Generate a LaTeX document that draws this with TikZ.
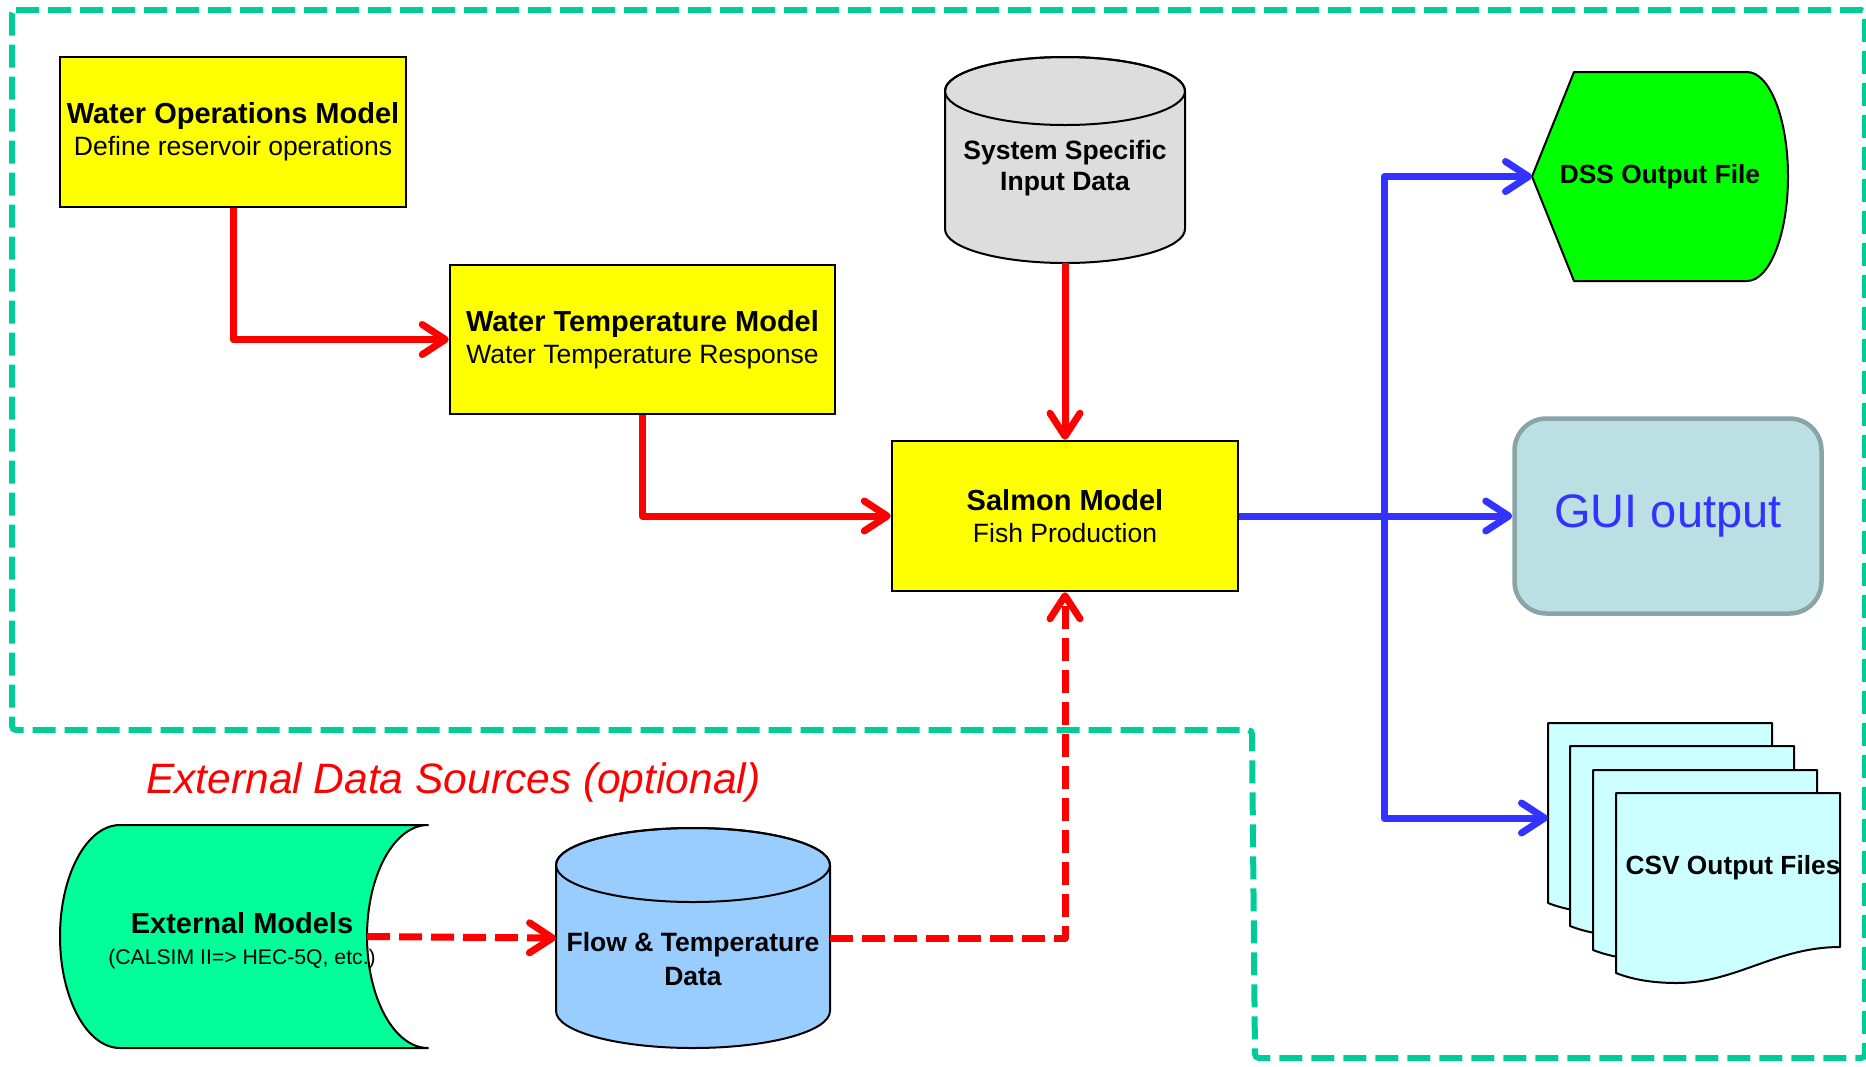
\documentclass[tikz,border=0pt]{standalone}
\usepackage{fontspec}
\setmainfont{Liberation Sans}
\usetikzlibrary{arrows.meta}

\definecolor{outlinegreen}{HTML}{00CC99}
\definecolor{flowred}{HTML}{FF0000}
\definecolor{flowblue}{HTML}{3333FF}
\definecolor{boxyellow}{HTML}{FFFF00}
\definecolor{sysgray}{HTML}{DDDDDD}
\definecolor{cylblue}{HTML}{99CCFF}
\definecolor{extgreen}{HTML}{00FF99}
\definecolor{dssgreen}{HTML}{00FF00}
\definecolor{csvcyan}{HTML}{CCFFFF}
\definecolor{guifill}{HTML}{BBDFE2}
\definecolor{guiedge}{HTML}{88A4A6}

\tikzset{
  groupline/.style={draw=outlinegreen, line width=6pt, dash pattern=on 23pt off 9pt, rounded corners=4pt},
  modelbox/.style={draw=black, line width=2.5pt, fill=boxyellow, inner sep=0pt, align=center,
    font=\fontsize{26.5}{32}\selectfont},
  shapeline/.style={draw=black, line width=2pt, line join=round},
  frame/.style={inner sep=0pt, outer sep=0pt},
  boldlabel/.style={inner sep=0pt, align=center, font=\fontsize{26.5}{31}\selectfont\bfseries},
  tip/.style={-{Straight Barb[length=23pt,width=30pt,round]}},
  redflow/.style={draw=flowred, line width=7pt, line join=round, tip},
  reddash/.style={redflow, dash pattern=on 23pt off 9pt},
  blueflow/.style={draw=flowblue, line width=7pt, line join=round},
  docpage/.pic={
    \path[shapeline, fill=csvcyan] (0,0) -- (224,0) -- (224,-154)
      .. controls (160,-154) and (120,-190) .. (61,-190)
      .. controls (35,-190) and (15,-186) .. (0,-180) -- cycle;
  }
}

\newcommand{\modeltitle}[1]{{\fontsize{29}{32}\selectfont\bfseries #1}}

\begin{document}
\begin{tikzpicture}[x=1pt, y=1pt]
\useasboundingbox (0,0) rectangle (1866,-1066);

% dashed boundary of the integrated model
\draw[groupline] (12,-10) -- (1865,-10) -- (1865,-1058) -- (1255,-1058)
  -- (1252,-730) -- (12,-730) -- cycle;

% model boxes
\node[modelbox, minimum width=346pt, minimum height=150pt] (wo) at (233,-132)
  {\modeltitle{Water Operations Model}\\Define reservoir operations};
\node[modelbox, minimum width=385pt, minimum height=149pt] (wt) at (642.5,-339.5)
  {\modeltitle{Water Temperature Model}\\Water Temperature Response};
\node[modelbox, minimum width=346pt, minimum height=150pt] (salmon) at (1065,-516)
  {\modeltitle{Salmon Model}\\Fish Production};

% system specific input data (cylinder)
\path[shapeline, fill=sysgray] (945,-91) -- (945,-229)
  arc[start angle=180, end angle=360, x radius=120, y radius=34]
  -- (1185,-91) arc[start angle=0, end angle=180, x radius=120, y radius=34] -- cycle;
\draw[shapeline] (1065,-91) ellipse[x radius=120, y radius=34];
\node[frame, minimum width=240pt, minimum height=206pt] (sysdata) at (1065,-160) {};
\node[boldlabel] (systext) at (1065,-168) {System Specific\\Input Data};

% flow & temperature data (cylinder)
\path[shapeline, fill=cylblue] (556,-865) -- (556,-1011)
  arc[start angle=180, end angle=360, x radius=137, y radius=37]
  -- (830,-865) arc[start angle=0, end angle=180, x radius=137, y radius=37] -- cycle;
\draw[shapeline] (693,-865) ellipse[x radius=137, y radius=37];
\node[frame, minimum width=274pt, minimum height=220pt] (flow) at (693,-938) {};
\node[boldlabel, font=\fontsize{26.5}{34}\selectfont\bfseries] (flowtext) at (693,-959)
  {Flow \& Temperature\\Data};

% external models (stored data shape)
\path[shapeline, fill=extgreen] (120,-825) -- (428,-825)
  arc[start angle=90, end angle=270, x radius=61, y radius=111.5]
  -- (120,-1048) arc[start angle=270, end angle=90, x radius=60, y radius=111.5] -- cycle;
\node[frame, minimum width=307pt, minimum height=223pt] (ext) at (213.5,-936.5) {};
\node[inner sep=0pt, align=center, font=\fontsize{21.2}{31}\selectfont] (exttext) at (242,-941)
  {{\fontsize{29}{31}\selectfont\bfseries External Models}\\(CALSIM II=> HEC-5Q, etc.)};

\node[anchor=west, inner sep=0pt, text=flowred, font=\fontsize{42.5}{48}\selectfont\itshape]
  (extlabel) at (146,-782) {External Data Sources (optional)};

% DSS output file (display shape)
\path[shapeline, fill=dssgreen] (1532,-176.5) -- (1574,-72) -- (1747,-72)
  arc[start angle=90, end angle=-90, x radius=41, y radius=104.5]
  -- (1574,-281) -- cycle;
\node[frame, minimum width=256pt, minimum height=209pt, font=\fontsize{26.3}{31}\selectfont\bfseries]
  (dss) at (1660,-176.5) {DSS Output File};

% GUI output
\node[draw=guiedge, line width=4.5pt, fill=guifill, rounded corners=32pt,
  minimum width=307pt, minimum height=195pt, text=flowblue,
  font=\fontsize{47}{52}\selectfont] (gui) at (1668,-516) {GUI output};

% CSV output files (stack of documents)
\pic at (1548,-723) {docpage};
\pic at (1570,-746) {docpage};
\pic at (1593,-770) {docpage};
\pic at (1616,-793) {docpage};
\node[frame, minimum width=224pt, minimum height=190pt] (csvback) at (1660,-818) {};
\node[inner sep=0pt, font=\fontsize{26.3}{31}\selectfont\bfseries] (csvtext) at (1733,-868)
  {CSV Output Files};

% red model chain
\draw[redflow] (wo.south) |- (wt.west);
\draw[redflow] (wt.south) |- (salmon.west);
\draw[redflow] (sysdata.south) -- (salmon.north);

% optional external data
\draw[reddash] (ext.east) -- (flow.west);
\draw[reddash] (flow.east) -| (salmon.south);

% blue output distribution
\coordinate (jn) at (1384,-516);
\draw[blueflow, tip] (salmon.east) -- (gui.west);
\draw[blueflow, tip] (jn) |- (dss.west);
\draw[blueflow, tip] (jn) |- (csvback.west);
\end{tikzpicture}
\end{document}
